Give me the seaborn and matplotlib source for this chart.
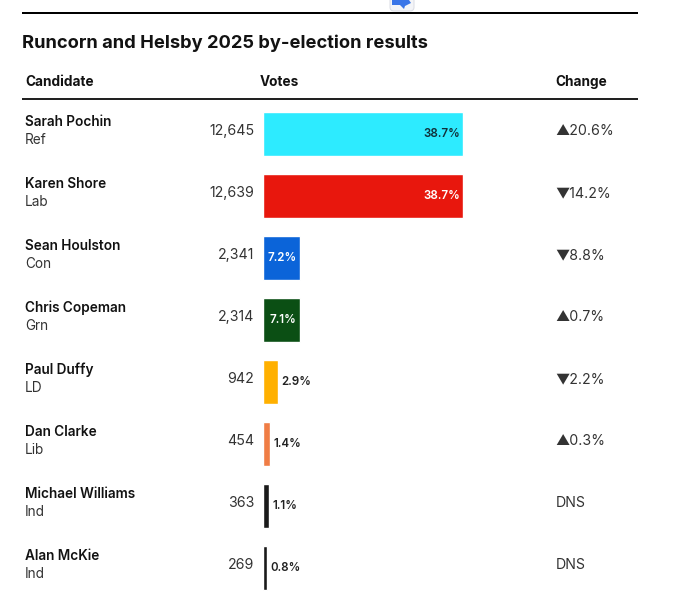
import matplotlib
matplotlib.use("Agg")
import matplotlib.pyplot as plt
from matplotlib.patches import FancyBboxPatch, Polygon, Rectangle
import pandas as pd
import seaborn as sns

candidates = ["Sarah Pochin", "Karen Shore", "Sean Houlston", "Chris Copeman",
              "Paul Duffy", "Dan Clarke", "Michael Williams", "Alan McKie"]
parties = ["Ref", "Lab", "Con", "Grn", "LD", "Lib", "Ind", "Ind"]
votes = [12645, 12639, 2341, 2314, 942, 454, 363, 269]
shares = ["38.7%", "38.7%", "7.2%", "7.1%", "2.9%", "1.4%", "1.1%", "0.8%"]
changes = ["▲20.6%", "▼14.2%", "▼8.8%", "▲0.7%", "▼2.2%", "▲0.3%", "DNS", "DNS"]
colors = ["#2DEBFF", "#E8170D", "#0B64D9", "#0B4F14", "#FFB000", "#F07D45", "#1A1A1A", "#1A1A1A"]
share_colors = ["#10303A", "white", "white", "white", "#222222", "#222222", "#222222", "#222222"]

W, H = 680, 592
INK = "#121212"
GREY = "#333333"

sns.set_theme(style="white")
plt.rcParams["font.family"] = ["Inter", "DejaVu Sans"]

fig = plt.figure(figsize=(W / 100, H / 100), dpi=100, facecolor="white")

# Page layer in pixel coordinates for headings, rules and table text
page = fig.add_axes([0, 0, 1, 1])
page.set_xlim(0, W)
page.set_ylim(H, 0)
page.axis("off")

page.add_patch(Rectangle((22, 11.5), 616, 2.6, color="black", lw=0))
page.add_patch(FancyBboxPatch((390, -6), 24, 17, boxstyle="round,pad=0,rounding_size=4",
                              fc="#F4F5F8", ec="#DDDFE6", lw=0.8, zorder=3))
page.add_patch(Polygon([(392, 0), (409, 0), (411, 3), (405, 6), (404, 9), (400, 5), (392, 5)],
                       color="#3A76E8", lw=0, zorder=4))
page.text(22.5, 43, "Runcorn and Helsby 2025 by-election results", fontsize=13.2,
          fontweight="bold", color=INK, va="center", ha="left")
page.text(25, 82, "Candidate", fontsize=9.8, fontweight="bold", color=INK, va="center")
page.text(260, 82, "Votes", fontsize=9.8, fontweight="bold", color=INK, va="center")
page.text(555.5, 82, "Change", fontsize=9.8, fontweight="bold", color=INK, va="center")
page.add_patch(Rectangle((22, 97.8), 616, 1.8, color="#222222", lw=0))

# Bars share a linear vote scale; the first row is centred 31 px below the axes top
ROW = 62
bars_top, bars_left, bars_right = 103, 263, 640
ax = fig.add_axes([bars_left / W, 0, (bars_right - bars_left) / W, (H - bars_top) / H])
frame = pd.DataFrame({"candidate": candidates, "votes": votes})
sns.barplot(data=frame, x="votes", y="candidate", hue="candidate", palette=colors,
            legend=False, width=44 / ROW, saturation=1, ax=ax)
ax.set_xlim(0, (bars_right - bars_left) * max(votes) / 200)
ax.set_ylim((H - bars_top) / ROW - 0.5, -0.5)
ax.axis("off")
ax.patch.set_alpha(0)

for i, (name, party, v, share, change, sc) in enumerate(
        zip(candidates, parties, votes, shares, changes, share_colors)):
    cy = 134 + ROW * i
    page.text(25, cy - 12, name, fontsize=9.8, fontweight="semibold", color=INK, va="center")
    page.text(25, cy + 5.5, party, fontsize=9.8, color=GREY, va="center")
    page.text(254, cy - 3, f"{v:,}", fontsize=10.2, color=GREY, va="center", ha="right")
    page.text(555.5, cy - 3, change, fontsize=10.2, color=GREY, va="center", ha="left")

    inside = i < 4
    ax.annotate(share, (v, i), xytext=(-2.2 if inside else 2.4, -0.3), textcoords="offset points",
                ha="right" if inside else "left", va="center", fontsize=8.3,
                fontweight="semibold", color=sc)

fig.savefig("out.png", dpi=100, facecolor="white")
